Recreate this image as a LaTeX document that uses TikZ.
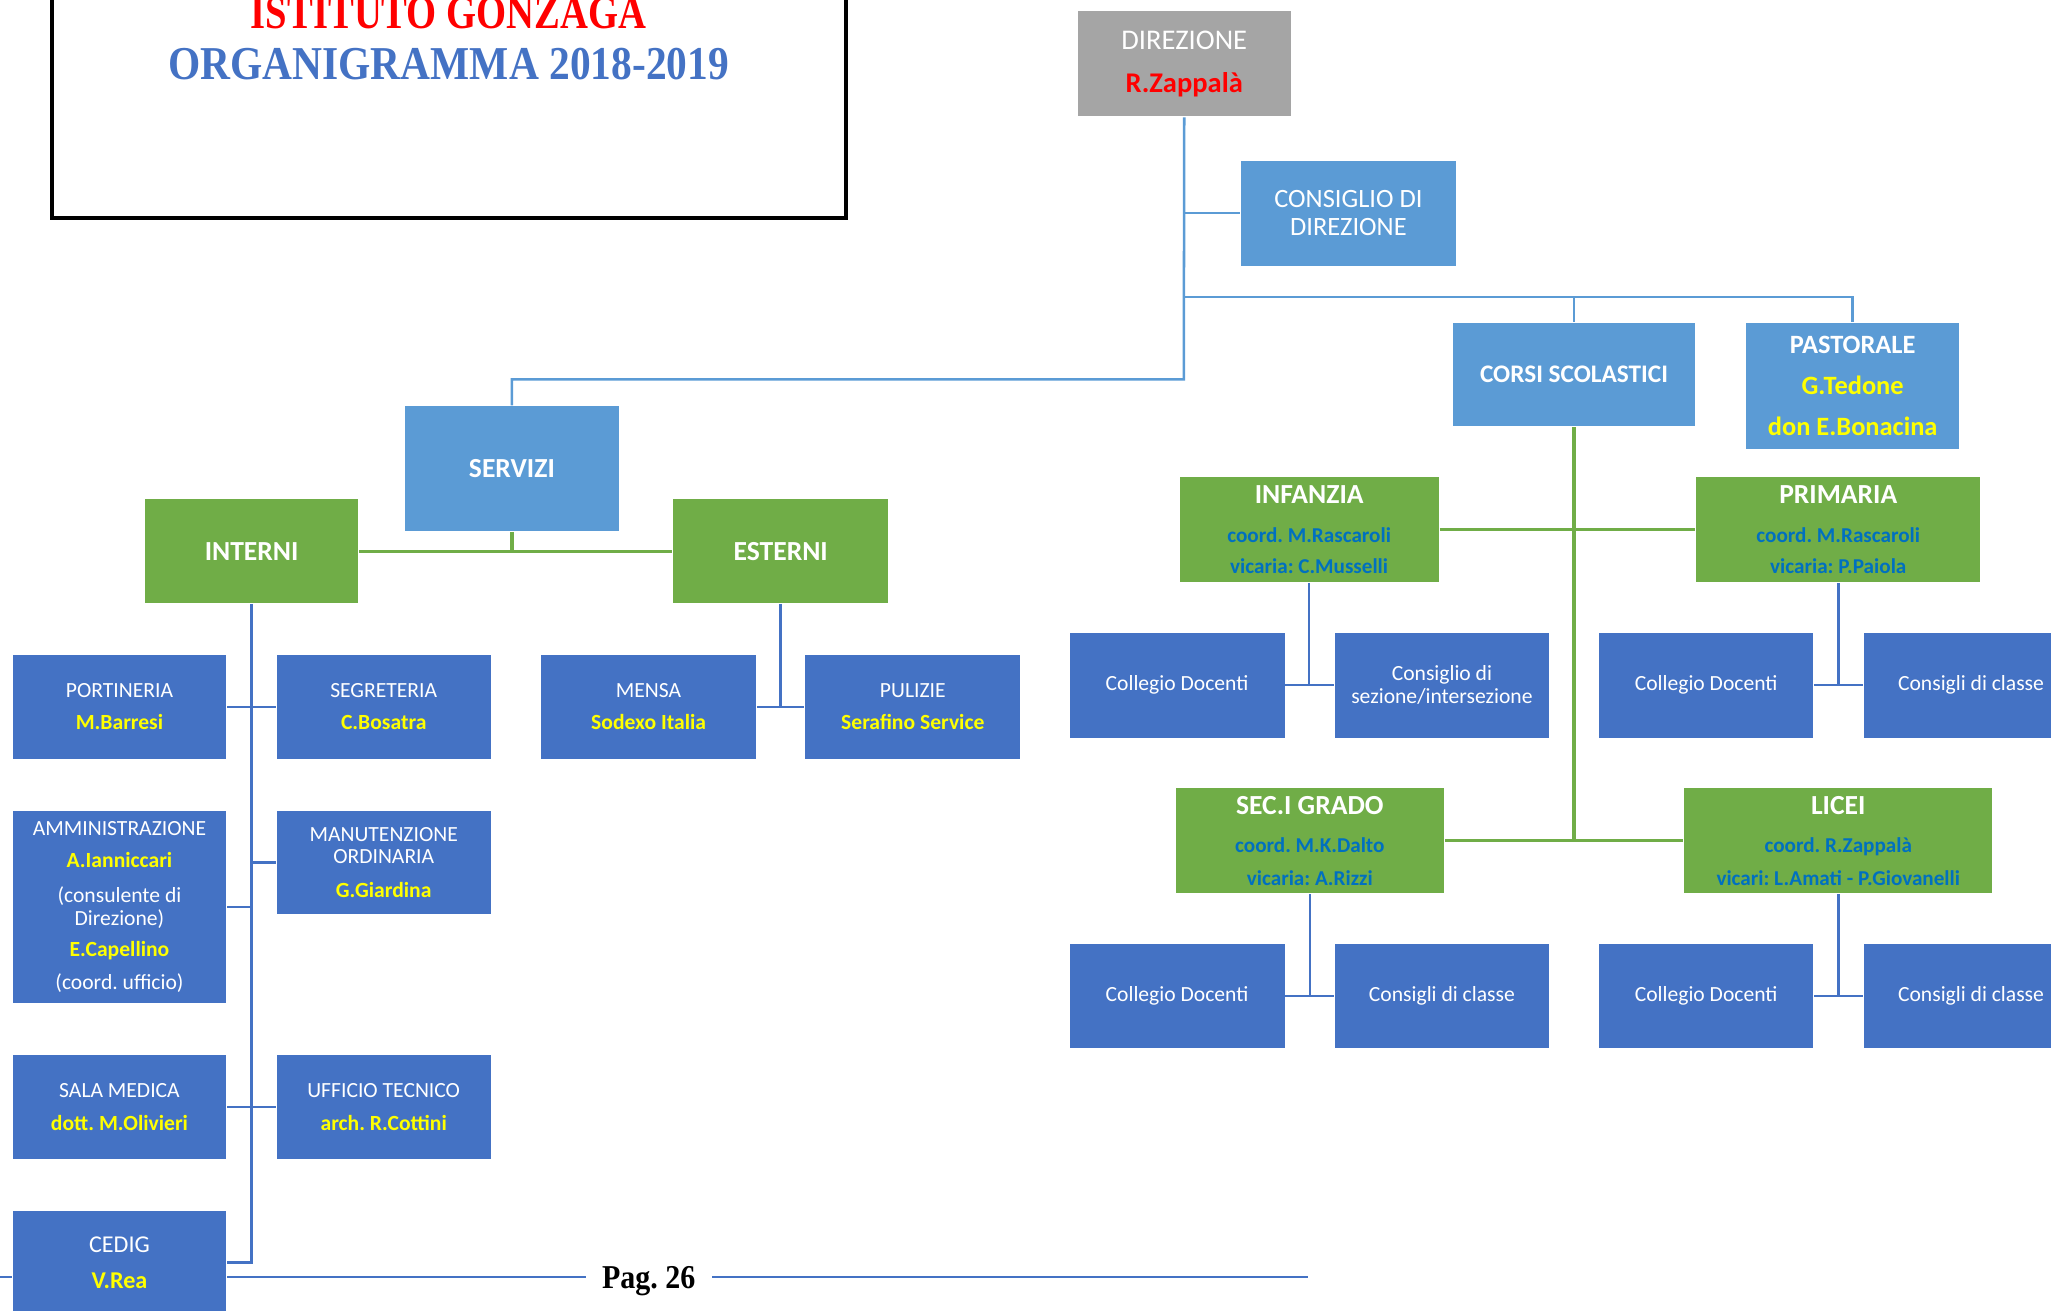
\documentclass[tikz,border=0pt]{standalone}
\usepackage{fontspec}
\usepackage{graphicx}
\setmainfont{Carlito}
\newfontfamily\titleserif{Liberation Serif}
\usetikzlibrary{calc}
\frenchspacing

\definecolor{dirgray}{HTML}{A5A5A5}
\definecolor{lightblue}{HTML}{5B9BD5}
\definecolor{darkblue}{HTML}{4472C4}
\definecolor{offgreen}{HTML}{70AD47}
\definecolor{nameyellow}{HTML}{FFFF00}
\definecolor{coordblue}{HTML}{0070C0}
\definecolor{titlered}{HTML}{FF0000}

\newcommand{\orgsmall}{\fontsize{9.4}{10}\selectfont}
\newcommand{\orghead}{\fontsize{12}{13.6}\selectfont\bfseries}
\newcommand{\yname}[1]{{\bfseries\color{nameyellow}#1}}
\newcommand{\bname}[1]{{\bfseries\color{coordblue}#1}}

\tikzset{
  orgbox/.style={rectangle, draw=white, line width=0.4pt, inner sep=2pt, align=center,
    text=white, anchor=north west, minimum width=32.8mm, minimum height=16mm},
  graybox/.style={orgbox, fill=dirgray},
  lbox/.style={orgbox, fill=lightblue},
  gbox/.style={orgbox, fill=offgreen},
  dbox/.style={orgbox, fill=darkblue, font=\orgsmall},
  toplink/.style={draw=lightblue, line width=1.1pt},
  greenlink/.style={draw=offgreen, line width=1.4pt},
  sublink/.style={draw=darkblue, line width=1.1pt},
  footline/.style={draw=darkblue, line width=0.8pt}
}

\begin{document}
\begin{tikzpicture}[x=0.2mm,y=-0.2mm]
  \clip (0,0) rectangle (1568,1002);

  %%%%% title %%%%%
  \draw[line width=1.7pt] (40,-20) rectangle (647,167);
  \node[anchor=base, text=titlered, inner sep=0pt,
    font=\titleserif\bfseries\fontsize{20.5}{22}\selectfont] (ist) at (343,22)
    {\scalebox{0.82}[1]{ISTITUTO GONZAGA}};
  \node[anchor=base, text=darkblue, inner sep=0pt,
    font=\titleserif\bfseries\fontsize{20.5}{22}\selectfont] (org) at (343,61)
    {\scalebox{0.88}[1]{ORGANIGRAMMA 2018-2019}};

  %%%%% footer %%%%%
  \node[anchor=base, inner xsep=7pt, inner ysep=0pt,
    font=\titleserif\bfseries\fontsize{14.5}{16}\selectfont] (pag) at (496,985)
    {\scalebox{0.9}[1]{Pag. 26}};
  \coordinate (footl) at (0,976);
  \coordinate (footr) at (1000,976);
  \draw[footline] (footl) -- (pag.west |- footl);
  \draw[footline] (pag.east |- footr) -- (footr);

  %%%%% top %%%%%
  \node[graybox, minimum height=16.2mm, font=\fontsize{12.4}{18.7}\selectfont] (dir) at (823,8)
    {DIREZIONE\\{\bfseries\color{titlered}R.Zappalà}};
  \node[lbox, minimum width=33mm, minimum height=16.2mm, font=\fontsize{11.5}{12.5}\selectfont] (cons) at (948,122)
    {CONSIGLIO DI\\DIREZIONE};
  \node[lbox, minimum width=37.2mm, font=\fontsize{11}{13}\selectfont\bfseries] (corsi) at (1110,246)
    {CORSI SCOLASTICI};
  \node[lbox, minimum height=19.4mm, font=\fontsize{11.5}{17.8}\selectfont\bfseries] (past) at (1334,246)
    {PASTORALE\\\yname{G.Tedone}\\\yname{don E.Bonacina}};

  %%%%% servizi %%%%%
  \node[lbox, minimum height=19.2mm, font=\orghead] (serv) at (309,310) {SERVIZI};
  \node[gbox, font=\orghead] (int) at (110,381) {INTERNI};
  \node[gbox, minimum width=33mm, font=\orghead] (est) at (514,381) {ESTERNI};

  \node[dbox] (port) at (9,500) {PORTINERIA\\[4pt]\yname{M.Barresi}};
  \node[dbox] (segr) at (211,500) {SEGRETERIA\\[4pt]\yname{C.Bosatra}};
  \node[dbox, minimum width=33mm] (mensa) at (413,500) {MENSA\\[4pt]\yname{Sodexo Italia}};
  \node[dbox, minimum width=33mm] (pul) at (615,500) {PULIZIE\\[4pt]\yname{Serafino Service}};
  \node[dbox, minimum height=29.6mm] (amm) at (9,619)
    {AMMINISTRAZIONE\\[3.6pt]\yname{A.Ianniccari}\\[5.3pt](consulente di\\Direzione)\\[3.6pt]%
     \yname{E.Capellino}\\[4.2pt](coord. ufficio)};
  \node[dbox] (manut) at (211,619) {MANUTENZIONE\\ORDINARIA\\[4.7pt]\yname{G.Giardina}};
  \node[dbox] (sala) at (9,806) {SALA MEDICA\\[4.2pt]\yname{dott. M.Olivieri}};
  \node[dbox] (uff) at (211,806) {UFFICIO TECNICO\\[4.2pt]\yname{arch. R.Cottini}};
  \node[dbox, font=\fontsize{10.5}{11}\selectfont] (cedig) at (9,925) {CEDIG\\[4.9pt]\yname{V.Rea}};

  %%%%% corsi %%%%%
  \node[gbox, minimum width=39.8mm, minimum height=16.2mm, font=\fontsize{9.2}{13.6}\selectfont] (inf) at (901,364)
    {{\orghead INFANZIA}\\[3.4pt]\bname{coord. M.Rascaroli}\\\bname{vicaria: C.Musselli}};
  \node[gbox, minimum width=43.6mm, minimum height=16.2mm, font=\fontsize{9.2}{13.6}\selectfont] (prim) at (1296,364)
    {{\orghead PRIMARIA}\\[3.4pt]\bname{coord. M.Rascaroli}\\\bname{vicaria: P.Paiola}};
  \node[gbox, minimum width=41.2mm, minimum height=16.2mm, font=\fontsize{9.2}{14.2}\selectfont] (sec) at (898,602)
    {{\orghead SEC.I GRADO}\\[2.2pt]\bname{coord. M.K.Dalto}\\\bname{vicaria: A.Rizzi}};
  \node[gbox, minimum width=47.2mm, minimum height=16.2mm, font=\fontsize{9.2}{14.2}\selectfont] (lic) at (1287,602)
    {{\orghead LICEI}\\[2.2pt]\bname{coord. R.Zappalà}\\\bname{vicari: L.Amati - P.Giovanelli}};

  \node[dbox, minimum width=33mm, minimum height=16.2mm] (infcd) at (817,483) {Collegio Docenti};
  \node[dbox, minimum height=16.2mm] (infcs) at (1020,483) {Consiglio di\\sezione/intersezione};
  \node[dbox, minimum height=16.2mm] (primcd) at (1222,483) {Collegio Docenti};
  \node[dbox, minimum width=33mm, minimum height=16.2mm] (primcc) at (1424,483) {Consigli di classe};
  \node[dbox, minimum width=33mm] (seccd) at (817,721) {Collegio Docenti};
  \node[dbox] (seccc) at (1020,721) {Consigli di classe};
  \node[dbox] (liccd) at (1222,721) {Collegio Docenti};
  \node[dbox, minimum width=33mm] (liccc) at (1424,721) {Consigli di classe};

  %%%%% connectors %%%%%
  \coordinate (topbar) at (905,227);
  \coordinate (servbar) at (905,290);
  \draw[toplink] (dir.south) -- (servbar) -| (serv.north);
  \draw[toplink] (dir.south |- cons.west) -- (cons.west);
  \draw[toplink] (topbar) -| (corsi.north);
  \draw[toplink] (topbar) -| (past.north);

  \draw[greenlink] (serv.south) -- (serv.south |- int.east);
  \draw[greenlink] (int.east) -- (est.west);

  \draw[sublink] (int.south) |- (cedig.east);
  \draw[sublink] (port.east) -- (segr.west);
  \draw[sublink] (amm.east) -- (int.south |- amm.east);
  \draw[sublink] (int.south |- manut.west) -- (manut.west);
  \draw[sublink] (sala.east) -- (uff.west);
  \draw[sublink] (est.south) -- (est.south |- pul.west);
  \draw[sublink] (mensa.east) -- (pul.west);

  \draw[greenlink] (corsi.south) -- (corsi.south |- sec.east);
  \draw[greenlink] (inf.east) -- (prim.west);
  \draw[greenlink] (sec.east) -- (lic.west);

  \draw[sublink] (inf.south) -- (inf.south |- infcd.east);
  \draw[sublink] (infcd.east) -- (infcs.west);
  \draw[sublink] (prim.south) -- (prim.south |- primcd.east);
  \draw[sublink] (primcd.east) -- (primcc.west);
  \draw[sublink] (sec.south) -- (sec.south |- seccd.east);
  \draw[sublink] (seccd.east) -- (seccc.west);
  \draw[sublink] (lic.south) -- (lic.south |- liccd.east);
  \draw[sublink] (liccd.east) -- (liccc.west);
\end{tikzpicture}
\end{document}
